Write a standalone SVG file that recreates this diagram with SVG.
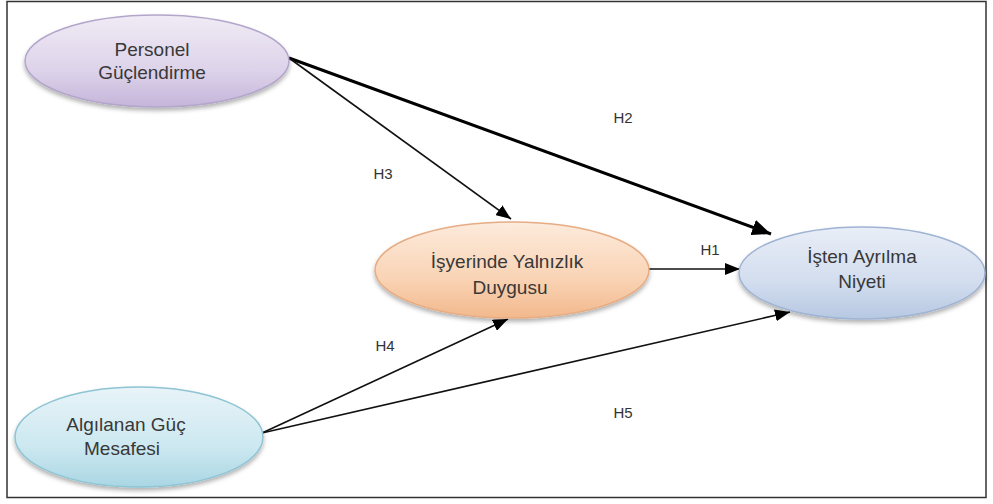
<svg xmlns="http://www.w3.org/2000/svg" width="993" height="504" viewBox="0 0 993 504">
<style>
.frame{fill:#ffffff;stroke:#333333;stroke-width:1.5}
.node-text{font-family:"Liberation Sans","Lato",Arial,sans-serif;font-size:19px;fill:#383838;text-anchor:middle}
.lbl{font-family:"Liberation Sans","Lato",Arial,sans-serif;font-size:15px;fill:#333333;text-anchor:middle}
.thin{stroke:#111111;stroke-width:1.6;fill:none}
.thick{stroke:#000000;stroke-width:3;fill:none}
</style>
<defs>
<linearGradient id="gPurple" x1="0" y1="0" x2="0" y2="1">
<stop offset="0" stop-color="#f0ebf5"/><stop offset="0.6" stop-color="#ddd3ea"/><stop offset="1" stop-color="#c5b5da"/>
</linearGradient>
<linearGradient id="gOrange" x1="0" y1="0" x2="0" y2="1">
<stop offset="0" stop-color="#fdebdc"/><stop offset="0.6" stop-color="#f9d3b4"/><stop offset="1" stop-color="#f2b88c"/>
</linearGradient>
<linearGradient id="gBlue" x1="0" y1="0" x2="0" y2="1">
<stop offset="0" stop-color="#e9eef7"/><stop offset="0.6" stop-color="#d2ddee"/><stop offset="1" stop-color="#b7c8e2"/>
</linearGradient>
<linearGradient id="gCyan" x1="0" y1="0" x2="0" y2="1">
<stop offset="0" stop-color="#e8f4f8"/><stop offset="0.6" stop-color="#cce8f0"/><stop offset="1" stop-color="#a9d6e3"/>
</linearGradient>
<filter id="shadow" x="-10%" y="-20%" width="120%" height="150%">
<feDropShadow dx="0" dy="3" stdDeviation="2" flood-color="#000000" flood-opacity="0.3"/>
</filter>
<marker id="arrThin" markerUnits="userSpaceOnUse" markerWidth="16" markerHeight="12" refX="15" refY="6" orient="auto">
<path d="M0,0 L15,6 L0,12 Z" fill="#000000"/>
</marker>
<marker id="arrThick" markerUnits="userSpaceOnUse" markerWidth="20" markerHeight="16" refX="19" refY="8" orient="auto">
<path d="M0,0 L19,8 L0,16 Z" fill="#000000"/>
</marker>
</defs>
<rect class="frame" x="7" y="1.5" width="979" height="496"/>
<g id="connectors">
<line class="thick" x1="289" y1="58" x2="771" y2="234" marker-end="url(#arrThick)"/>
<line class="thin" x1="289" y1="58" x2="511" y2="219" marker-end="url(#arrThin)"/>
<line class="thin" x1="648" y1="269" x2="740" y2="269" marker-end="url(#arrThin)"/>
<line class="thin" x1="262" y1="433" x2="508" y2="319" marker-end="url(#arrThin)"/>
<line class="thin" x1="262" y1="433" x2="790" y2="312" marker-end="url(#arrThin)"/>
<text class="lbl" x="623" y="123">H2</text>
<text class="lbl" x="383" y="179">H3</text>
<text class="lbl" x="710" y="255">H1</text>
<text class="lbl" x="385" y="351">H4</text>
<text class="lbl" x="623" y="418">H5</text>
</g>
<g id="personel">
<ellipse cx="157" cy="61" rx="132" ry="46" fill="url(#gPurple)" stroke="#b3a6cb" stroke-width="1.5" filter="url(#shadow)"/>
<text class="node-text" x="152" y="56">Personel</text>
<text class="node-text" x="152" y="79">Güçlendirme</text>
</g>
<g id="isyerinde">
<ellipse cx="512" cy="270" rx="137" ry="48" fill="url(#gOrange)" stroke="#e6ad85" stroke-width="1.5" filter="url(#shadow)"/>
<text class="node-text" x="507" y="268">İşyerinde Yalnızlık</text>
<text class="node-text" x="510" y="294">Duygusu</text>
</g>
<g id="isten">
<ellipse cx="862" cy="273" rx="123" ry="46" fill="url(#gBlue)" stroke="#9fb3d3" stroke-width="1.5" filter="url(#shadow)"/>
<text class="node-text" x="862" y="263">İşten Ayrılma</text>
<text class="node-text" x="862" y="288">Niyeti</text>
</g>
<g id="algilanan">
<ellipse cx="139" cy="437" rx="124" ry="50" fill="url(#gCyan)" stroke="#8ec4d4" stroke-width="1.5" filter="url(#shadow)"/>
<text class="node-text" x="126" y="431">Algılanan Güç</text>
<text class="node-text" x="122" y="455">Mesafesi</text>
</g>
</svg>
